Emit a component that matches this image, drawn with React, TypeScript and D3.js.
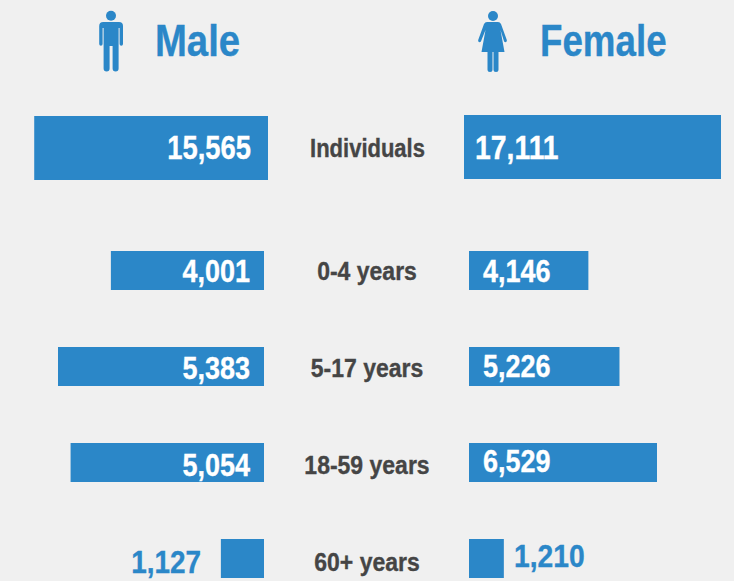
import * as d3 from "d3";
import React from "react";

const groups = ["0-4 years", "5-17 years", "18-59 years", "60+ years"];
const maleAges = [4001, 5383, 5054, 1127];
const femaleAges = [4146, 5226, 6529, 1210];
const maleTotal = 15565;
const femaleTotal = 17111;

const BLUE = "#2b87c8";
const GREY = "#454545";
const FONT = "'Liberation Sans', sans-serif";
const fmt = d3.format(",");

const totalScale = d3.scaleLinear().domain([0, femaleTotal]).range([0, 257]);
const maleScale = d3.scaleLinear().domain([0, 5383]).range([0, 206]);
const femaleScale = d3.scaleLinear().domain([0, 6529]).range([0, 188]);
const rowY = d3.scalePoint<string>().domain(groups).range([251, 539]);
// the text in the source does not sit on the same rhythm as the bars
const labelY = d3.scalePoint<string>().domain(groups).range([280, 571]);
const maleTextY = d3.scalePoint<string>().domain(groups).range([282, 573]);
const femaleTextY = d3.scalePoint<string>().domain(groups).range([282, 567]);

const MaleIcon = () => (
  <g fill={BLUE} transform="translate(111,0)">
    <circle cx={0} cy={15.7} r={5} />
    <path d="M-8 22h16a4 4 0 0 1 4 4v18a1.700 1.700 0 0 1-3.400 0V28h-1v40.500a3 3 0 0 1-6 0V46h-3v22.500a3 3 0 0 1-6 0V28h-1v16a1.700 1.700 0 0 1-3.400 0V26a4 4 0 0 1 4-4z" />
  </g>
);

const FemaleIcon = () => (
  <g fill={BLUE} transform="translate(493,0)">
    <circle cx={0} cy={16} r={5} />
    <path d="M-5 22h10q2 0 3 2l5.800 16q.5 1.500-.8 2t-2-.8L7.500 30 11.500 52H5.500v17.500a2.500 2.500 0 0 1-5 0V52h-1v17.500a2.500 2.500 0 0 1-5 0V52H-11.500L-7.500 30l-4.500 11.200q-.7 1.300-2 .8t-.8-2L-9 24q1-2 3-2z" />
  </g>
);

// no narrow bold face is installed, so squeeze the regular bold horizontally
const Value = ({ x, y, anchor, fill, size, squeeze = 0.87, children }: any) => (
  <text
    transform={`translate(${x},${y}) scale(${squeeze},1)`}
    textAnchor={anchor}
    fill={fill}
    stroke={fill}
    strokeWidth={0.35}
    fontFamily={FONT}
    fontWeight={700}
    fontSize={size}
  >
    {children}
  </text>
);

export default function App() {
  const barH = 39;
  return (
    <svg width={734} height={581} style={{ position: "absolute", left: 0, top: 0, background: "#f0f0f0" }}>
      <MaleIcon />
      <FemaleIcon />
      <Value x={155} y={56} anchor="start" fill={BLUE} size={44} squeeze={0.87}>Male</Value>
      <Value x={540} y={56} anchor="start" fill={BLUE} size={44} squeeze={0.835}>Female</Value>

      <rect x={268 - totalScale(maleTotal)} y={116} width={totalScale(maleTotal)} height={64} fill={BLUE} />
      <rect x={464} y={115} width={totalScale(femaleTotal)} height={64} fill={BLUE} />
      <Value x={251} y={159} anchor="end" fill="#fff" size={33} squeeze={0.83}>{fmt(maleTotal)}</Value>
      <Value x={475} y={159} anchor="start" fill="#fff" size={33} squeeze={0.86}>{fmt(femaleTotal)}</Value>
      <Value x={367.5} y={157} anchor="middle" fill={GREY} size={25} squeeze={0.88}>Individuals</Value>

      {groups.map((g, i) => {
        const y = rowY(g) as number;
        const mw = maleScale(maleAges[i]);
        const fw = femaleScale(femaleAges[i]);
        const small = maleAges[i] < 2000;
        return (
          <g key={g}>
            <rect x={264 - mw} y={y} width={mw} height={barH} fill={BLUE} />
            <rect x={469} y={y} width={fw} height={barH} fill={BLUE} />
            <Value x={small ? 201 : 250} y={maleTextY(g)} anchor="end" fill={small ? BLUE : "#fff"} size={31} squeeze={small ? 0.9 : 0.87}>
              {fmt(maleAges[i])}
            </Value>
            <Value x={small ? 514 : 483} y={femaleTextY(g)} anchor="start" fill={small ? BLUE : "#fff"} size={31} squeeze={small ? 0.91 : 0.87}>
              {fmt(femaleAges[i])}
            </Value>
            <Value x={367} y={labelY(g)} anchor="middle" fill={GREY} size={25} squeeze={0.92}>{g}</Value>
          </g>
        );
      })}
    </svg>
  );
}
